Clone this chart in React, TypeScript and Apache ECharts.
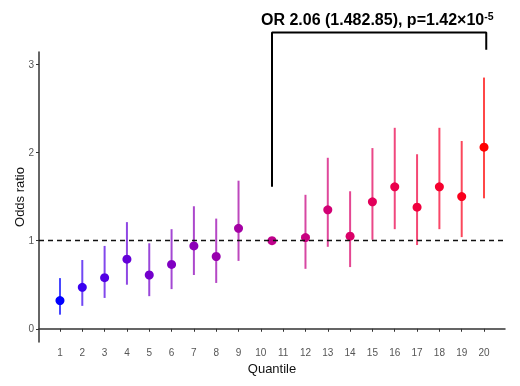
import React, { useEffect, useRef } from "react";
import * as echarts from "echarts";

const quantilePos = [1, 2, 3, 4, 5, 6, 7, 8, 9, 10.5, 12, 13, 14, 15, 16, 17, 18, 19, 20];
const oddsRatio = [0.32, 0.47, 0.58, 0.79, 0.61, 0.73, 0.94, 0.82, 1.14, 1.0, 1.035, 1.35, 1.05, 1.44, 1.61, 1.38, 1.61, 1.5, 2.06];
const ciLow = [0.16, 0.26, 0.35, 0.5, 0.37, 0.45, 0.61, 0.52, 0.77, null, 0.68, 0.93, 0.7, 1.01, 1.13, 0.95, 1.13, 1.04, 1.48];
const ciHigh = [0.575, 0.78, 0.94, 1.21, 0.97, 1.13, 1.39, 1.25, 1.68, null, 1.52, 1.94, 1.56, 2.05, 2.28, 1.98, 2.28, 2.13, 2.85];
const pointColors = [
  "#0000ff", "#3a00f0", "#5200e4", "#6400d8", "#7300cc", "#8000c2", "#8c00b8", "#9800ae", "#a400a4",
  "#c0008c", "#c80080", "#d20074", "#da0068", "#e2005a", "#ea004c", "#f0003e", "#f6002e", "#fa001c", "#ff0000",
];
const xTicks = [1, 2, 3, 4, 5, 6, 7, 8, 9, 10, 11, 12, 13, 14, 15, 16, 17, 18, 19, 20];
const yTicks = [0, 1, 2, 3];
const bracket = [[10.5, 1.61], [10.5, 3.36], [20.1, 3.36], [20.1, 3.165]];

export default function App() {
  const ref = useRef<HTMLDivElement>(null);
  useEffect(() => {
    if (!ref.current) return;
    const chart = echarts.init(ref.current, null, { renderer: "svg" });
    const axisCommon = {
      axisLine: { show: true, lineStyle: { color: "#333", width: 1.5 } },
      axisTick: { show: true, length: 3, lineStyle: { color: "#333" } },
      splitLine: { show: false },
      nameTextStyle: { color: "#111", fontSize: 13, fontFamily: "Liberation Sans, Arial" },
    };
    chart.setOption({
      animation: false,
      grid: { left: 39, right: 15, top: 52, bottom: 44, containLabel: false },
      xAxis: {
        type: "value",
        min: 0.06,
        max: 20.94,
        name: "Quantile",
        nameLocation: "middle",
        nameGap: 20,
        ...axisCommon,
        axisTick: { ...axisCommon.axisTick, customValues: xTicks },
        axisLabel: { customValues: xTicks, color: "#555", fontSize: 10, margin: 5, fontFamily: "Liberation Sans, Arial" },
      },
      yAxis: {
        type: "value",
        min: -0.15,
        max: 3.14,
        ...axisCommon,
        axisTick: { ...axisCommon.axisTick, customValues: yTicks },
        axisLabel: { customValues: yTicks, color: "#555", fontSize: 10, margin: 5, fontFamily: "Liberation Sans, Arial" },
      },
      series: [
        {
          type: "custom",
          data: quantilePos.map((x, i) => [x, ciLow[i], ciHigh[i], i]),
          renderItem: (params: any, api: any) => {
            const lo = api.value(1);
            const hi = api.value(2);
            if (lo == null || hi == null || isNaN(lo) || isNaN(hi)) return null;
            const p1 = api.coord([api.value(0), lo]);
            const p2 = api.coord([api.value(0), hi]);
            const idx = api.value(3);
            return {
              type: "line",
              shape: { x1: p1[0], y1: p1[1], x2: p2[0], y2: p2[1] },
              style: { stroke: pointColors[idx], lineWidth: 2, opacity: 0.72 },
            };
          },
          z: 2,
        },
        {
          type: "scatter",
          symbolSize: 9,
          data: quantilePos.map((x, i) => ({ value: [x, oddsRatio[i]], itemStyle: { color: pointColors[i], opacity: 1 } })),
          z: 3,
          markLine: {
            silent: true,
            symbol: "none",
            label: { show: false },
            lineStyle: { color: "#111", type: [5, 4], width: 1.3 },
            data: [{ yAxis: 1 }],
          },
        },
        {
          type: "line",
          data: bracket,
          clip: false,
          symbol: "none",
          lineStyle: { color: "#000", width: 2 },
          z: 4,
        },
      ],
      graphic: [
        {
          type: "text",
          left: 261,
          top: 10,
          style: {
            text: "OR 2.06 (1.482.85), p=1.42×10{sup|-5}",
            fontSize: 16,
            fontWeight: "bold",
            fontFamily: "Liberation Sans, Arial",
            fill: "#000",
            rich: {
              sup: { fontSize: 10.5, fontWeight: "bold", verticalAlign: "top", fill: "#000", padding: [0, 0, 7, 0] },
            },
          },
        },
        {
          type: "text",
          x: 19,
          y: 197,
          rotation: Math.PI / 2,
          style: {
            text: "Odds ratio",
            fontSize: 13,
            fontFamily: "Liberation Sans, Arial",
            fill: "#111",
            align: "center",
            verticalAlign: "middle",
          },
        },
      ],
    });
    return () => chart.dispose();
  }, []);
  return <div ref={ref} style={{ position: "fixed", left: 0, top: 0, width: 520, height: 386 }} />;
}
